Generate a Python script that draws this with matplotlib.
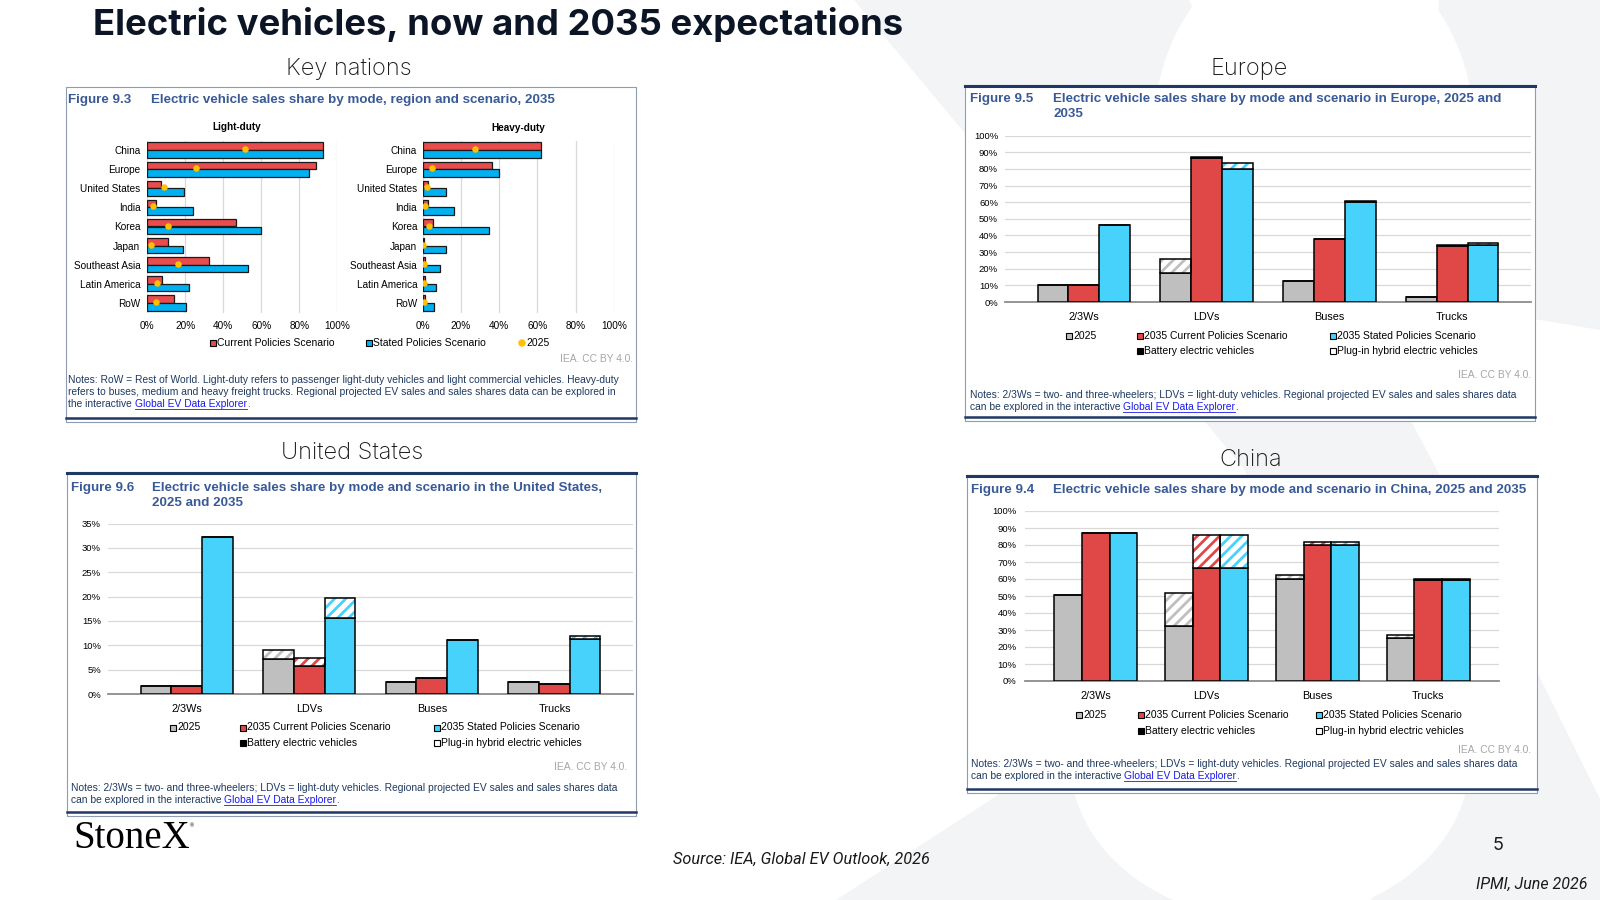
import matplotlib
matplotlib.use("Agg")
import matplotlib.pyplot as plt
import numpy as np
from matplotlib.patches import Rectangle, Circle, Polygon, Ellipse
from matplotlib.ticker import FuncFormatter

ARIAL = ["Liberation Sans", "DejaVu Sans"]
INTER = ["Inter", "DejaVu Sans"]
plt.rcParams["font.family"] = ARIAL
plt.rcParams["hatch.linewidth"] = 2.0

# --- Key nations (Figure 9.3), shares in % ---
nations = ["China", "Europe", "United States", "India", "Korea", "Japan",
           "Southeast Asia", "Latin America", "RoW"]
ld_cps = [92.6, 89.0, 7.0, 4.6, 46.7, 10.9, 32.5, 7.5, 14.2]
ld_sps = [92.6, 85.0, 19.5, 24.0, 59.6, 18.6, 53.2, 22.1, 20.2]
ld_2025 = [51.6, 25.4, 9.0, 3.0, 10.7, 2.1, 16.1, 5.3, 4.4]
hd_cps = [61.8, 36.2, 2.6, 2.6, 5.2, 0.5, 1.4, 1.4, 1.4]
hd_sps = [61.8, 40.0, 12.2, 16.2, 34.8, 12.2, 9.0, 7.1, 5.7]
hd_2025 = [27.4, 4.7, 2.4, 1.2, 3.5, 0.3, 0.5, 0.9, 0.5]

# --- by mode: 2025 / 2035 CPS / 2035 SPS, BEV + PHEV ---
modes = ["2/3Ws", "LDVs", "Buses", "Trucks"]

eu_2025_bev = [10.0, 17.5, 12.5, 2.8]
eu_2025_phev = [0.0, 8.1, 0.0, 0.0]
eu_cps_bev = [10.0, 86.5, 37.6, 33.5]
eu_cps_phev = [0.0, 0.6, 0.0, 0.7]
eu_sps_bev = [46.5, 79.9, 60.0, 34.0]
eu_sps_phev = [0.0, 3.6, 0.6, 1.4]

us_2025_bev = [1.6, 7.1, 2.5, 2.5]
us_2025_phev = [0.0, 2.0, 0.0, 0.0]
us_cps_bev = [1.6, 5.8, 3.2, 2.1]
us_cps_phev = [0.0, 1.5, 0.0, 0.0]
us_sps_bev = [32.2, 15.6, 11.1, 11.2]
us_sps_phev = [0.0, 4.1, 0.0, 0.7]

cn_2025_bev = [50.6, 32.5, 60.0, 25.4]
cn_2025_phev = [0.0, 19.5, 2.2, 1.6]
cn_cps_bev = [86.8, 66.5, 80.1, 59.5]
cn_cps_phev = [0.0, 19.5, 1.8, 0.5]
cn_sps_bev = [86.8, 66.5, 80.1, 59.5]
cn_sps_phev = [0.0, 19.5, 1.8, 0.5]

GRAY, RED, CYAN = "#bfbfbf", "#e04848", "#46d2fb"
KN_RED, KN_BLUE, KN_YELLOW = "#e84c4c", "#00b0f0", "#ffc000"
NAVY = "#1f3864"
FIG_BLUE = "#3a5a96"
NOTE_COL = "#1f3a60"
LINK = "#1a1aee"
WM = "#f3f4f6"
NOTE_FS = 7.4
LEG_FS = 7.5

fig = plt.figure(figsize=(16, 9), dpi=100)
bg = fig.add_axes([0, 0, 1, 1])
bg.set_xlim(0, 1600)
bg.set_ylim(900, 0)
bg.axis("off")


def rect(x0, y0, x1, y1):
    # pixel box (top-left origin) -> figure fraction
    return [x0 / 1600, 1 - y1 / 900, (x1 - x0) / 1600, (y1 - y0) / 900]


# faint StoneX "X" watermark
bg.add_patch(Polygon([(854, 0), (1189, 0), (1437, 470), (1650, 900), (1372, 900), (1245, 470)],
                     color=WM, lw=0, zorder=0))
bg.add_patch(Polygon([(1439, 0), (1650, 0), (1600, 330), (1420, 300)], color=WM, lw=0, zorder=0))
bg.add_patch(Polygon([(836, 900), (995, 797), (1080, 720), (1250, 720), (1250, 900)],
                     color=WM, lw=0, zorder=0))
bg.add_patch(Ellipse((1314, 130), 320, 380, color="white", lw=0, zorder=0.5))
bg.add_patch(Ellipse((1270, 760), 400, 320, color="white", lw=0, zorder=0.5))


def panel(x0, y0, x1, y1, heavy_top=True):
    bg.add_patch(Rectangle((x0, y0), x1 - x0, y1 - y0, facecolor="white",
                           edgecolor="#8f9bb3", lw=0.8, zorder=1))
    if heavy_top:
        bg.plot([x0, x1], [y0 + 1, y0 + 1], color=NAVY, lw=2.2, zorder=2)
    bg.plot([x0, x1], [y1 - 4, y1 - 4], color=NAVY, lw=1.8, zorder=2)


def header(x, y, num, tx, lines):
    bg.text(x, y, num, color=FIG_BLUE, fontsize=9.6, fontweight="bold", va="center", zorder=3)
    for i, line in enumerate(lines):
        bg.text(tx, y + i * 15, line, color=FIG_BLUE, fontsize=9.6, fontweight="bold",
                va="center", zorder=3)


def notes(x, y, lines, lead):
    r = fig.canvas.get_renderer()
    for i, line in enumerate(lines):
        bg.text(x, y + i * 12, line, fontsize=NOTE_FS, color=NOTE_COL, va="center", zorder=3)
    yl = y + len(lines) * 12
    t = bg.text(x, yl, lead, fontsize=NOTE_FS, color=NOTE_COL, va="center", zorder=3)
    xl = t.get_window_extent(r).x1
    lk = bg.text(xl, yl, "Global EV Data Explorer", fontsize=NOTE_FS, color=LINK, va="center", zorder=3)
    xe = lk.get_window_extent(r).x1
    bg.plot([xl, xe], [yl + 4.5, yl + 4.5], color=LINK, lw=0.6, zorder=3)
    bg.text(xe, yl, ".", fontsize=NOTE_FS, color=NOTE_COL, va="center", zorder=3)


def iea(x, y):
    bg.text(x, y, "IEA. CC BY 4.0.", fontsize=NOTE_FS, color="#a6a6a6", ha="right", va="center", zorder=3)


def legend_item(x, y, label, face, marker="s"):
    if marker == "s":
        bg.add_patch(Rectangle((x - 3, y - 3), 6, 6, facecolor=face, edgecolor="black", lw=0.8, zorder=3))
    else:
        bg.add_patch(Circle((x, y), 3, color=face, zorder=3))
    bg.text(x + 4, y, label, fontsize=LEG_FS, va="center", ha="left", zorder=3)


def mode_legend(xs, y1, y2):
    legend_item(xs[0], y1, "2025", GRAY)
    legend_item(xs[1], y1, "2035 Current Policies Scenario", RED)
    legend_item(xs[2], y1, "2035 Stated Policies Scenario", CYAN)
    legend_item(xs[1], y2, "Battery electric vehicles", "black")
    legend_item(xs[2], y2, "Plug-in hybrid electric vehicles", "white")


def mode_chart(box, bev_sets, phev_sets, ymax, step, pad):
    ax = fig.add_axes(rect(*box))
    ax.patch.set_alpha(0)
    x = np.arange(len(modes))
    w = 0.25
    for i, (bev, phev, col) in enumerate(zip(bev_sets, phev_sets, [GRAY, RED, CYAN])):
        pos = x + (i - 1) * w
        ax.bar(pos, bev, w, color=col, edgecolor="black", linewidth=1.1, zorder=3)
        ax.bar(pos, phev, w, bottom=bev, color="white", edgecolor=col, hatch="///",
               linewidth=0, zorder=3)
        ax.bar(pos, phev, w, bottom=bev, fill=False, edgecolor="black", linewidth=1.1, zorder=4)
    ax.set_xlim(-0.64, 3.64)
    ax.set_ylim(0, ymax)
    ax.set_yticks(np.arange(0, ymax + 0.1, step))
    ax.yaxis.set_major_formatter(FuncFormatter(lambda v, p: f"{v:.0f}%"))
    ax.set_xticks(x, modes)
    ax.grid(axis="y", color="#d9d9d9", lw=0.9)
    ax.set_axisbelow(True)
    for s in ["top", "right", "left"]:
        ax.spines[s].set_visible(False)
    ax.spines["bottom"].set_color("#8c8c8c")
    ax.spines["bottom"].set_linewidth(1.3)
    ax.tick_params(axis="y", length=0, labelsize=6.8, pad=pad)
    ax.tick_params(axis="x", length=0, labelsize=7.8, pad=7.5)
    return ax


def nation_chart(box, cps, sps, now, title, tx, ty, pad):
    ax = fig.add_axes(rect(*box))
    ax.patch.set_alpha(0)
    y = np.arange(len(nations))
    ax.barh(y - 0.2, cps, 0.4, color=KN_RED, edgecolor="#1a1a1a", lw=0.9, zorder=3)
    ax.barh(y + 0.2, sps, 0.4, color=KN_BLUE, edgecolor="#1a1a1a", lw=0.9, zorder=3)
    ax.scatter(now, y - 0.05, s=22, color=KN_YELLOW, zorder=5, linewidths=0)
    ax.set_ylim(8.5, -0.5)
    ax.set_xlim(0, 100)
    ax.set_xticks(np.arange(0, 101, 20))
    ax.xaxis.set_major_formatter(FuncFormatter(lambda v, p: f"{v:.0f}%"))
    ax.set_yticks(y, nations)
    ax.grid(axis="x", color="#d9d9d9", lw=0.9)
    ax.set_axisbelow(True)
    for s in ax.spines.values():
        s.set_visible(False)
    ax.tick_params(axis="y", length=0, labelsize=7.2, pad=pad)
    ax.tick_params(axis="x", length=0, labelsize=7.2, pad=6)
    bg.text(tx, ty, title, fontsize=7.2, fontweight="bold", ha="center", va="center", zorder=3)


# --- slide titles ---
bg.text(93, 25, "Electric vehicles, now and 2035 expectations", fontsize=26.3, fontweight="bold",
        family=INTER, color="#0c1526", va="center")
for sx, sy, s in [(349, 69, "Key nations"), (1249, 69, "Europe"),
                  (352, 453, "United States"), (1251, 460, "China")]:
    bg.text(sx, sy, s, fontsize=17, fontweight="light", family=INTER, color="#1a1a1a",
            ha="center", va="center")

# --- Key nations panel ---
panel(66, 87, 636, 422, heavy_top=False)
header(68, 100, "Figure 9.3", 151, ["Electric vehicle sales share by mode, region and scenario, 2035"])
nation_chart((147.3, 140.5, 337.3, 312.5), ld_cps, ld_sps, ld_2025, "Light-duty", 237, 127, 5)
nation_chart((422.7, 140.5, 614, 312.5), hd_cps, hd_sps, hd_2025, "Heavy-duty", 518, 128, 4)
legend_item(213, 343, "Current Policies Scenario", KN_RED)
legend_item(369, 343, "Stated Policies Scenario", KN_BLUE)
legend_item(522, 343, "2025", KN_YELLOW, marker="o")
iea(633, 359)
notes(68, 380, ["Notes: RoW = Rest of World. Light-duty refers to passenger light-duty vehicles and light commercial vehicles. Heavy-duty",
                "refers to buses, medium and heavy freight trucks. Regional projected EV sales and sales shares data can be explored in"],
      "the interactive ")

# --- Europe panel ---
panel(965, 85, 1535, 421)
header(970, 99, "Figure 9.5", 1053, ["Electric vehicle sales share by mode and scenario in Europe, 2025 and", "2035"])
mode_chart((1005, 135.7, 1531, 302), [eu_2025_bev, eu_cps_bev, eu_sps_bev],
           [eu_2025_phev, eu_cps_phev, eu_sps_phev], 100, 10, 5)
mode_legend([1069, 1140, 1333], 336, 351)
iea(1531, 375)
notes(970, 395, ["Notes: 2/3Ws = two- and three-wheelers; LDVs = light-duty vehicles. Regional projected EV sales and sales shares data"],
      "can be explored in the interactive ")

# --- United States panel ---
panel(67, 472, 636, 816)
header(71, 488, "Figure 9.6", 152, ["Electric vehicle sales share by mode and scenario in the United States,", "2025 and 2035"])
mode_chart((108, 523.5, 633, 694), [us_2025_bev, us_cps_bev, us_sps_bev],
           [us_2025_phev, us_cps_phev, us_sps_phev], 35, 5, 5)
mode_legend([173, 243, 437], 727.5, 743)
iea(627, 767)
notes(71, 788, ["Notes: 2/3Ws = two- and three-wheelers; LDVs = light-duty vehicles. Regional projected EV sales and sales shares data"],
      "can be explored in the interactive ")

# --- China panel ---
panel(967, 475, 1537, 793)
header(971, 490, "Figure 9.4", 1053, ["Electric vehicle sales share by mode and scenario in China, 2025 and 2035"])
mode_chart((1025, 511, 1499, 681), [cn_2025_bev, cn_cps_bev, cn_sps_bev],
           [cn_2025_phev, cn_cps_phev, cn_sps_phev], 100, 10, 6)
mode_legend([1079, 1141, 1319], 715, 731)
iea(1531, 750)
notes(971, 764, ["Notes: 2/3Ws = two- and three-wheelers; LDVs = light-duty vehicles. Regional projected EV sales and sales shares data"],
      "can be explored in the interactive ")

# --- footer ---
bg.text(73, 838, "StoneX", fontsize=28, family=["Liberation Serif", "DejaVu Serif"], color="black", va="center")
bg.text(190, 826, "®", fontsize=4, color="black", va="center")
bg.text(801, 859, "Source: IEA, Global EV Outlook, 2026", fontsize=11.7, style="italic",
        family=["Roboto", "DejaVu Sans"], color="#1a1a1a", ha="center", va="center")
bg.text(1498, 845, "5", fontsize=13, family=INTER, color="#1a1a1a", ha="center", va="center")
bg.text(1587, 884, "IPMI, June 2026", fontsize=11.5, style="italic",
        family=["Roboto", "DejaVu Sans"], color="#1a1a1a", ha="right", va="center")

fig.savefig("out.png", dpi=100)
